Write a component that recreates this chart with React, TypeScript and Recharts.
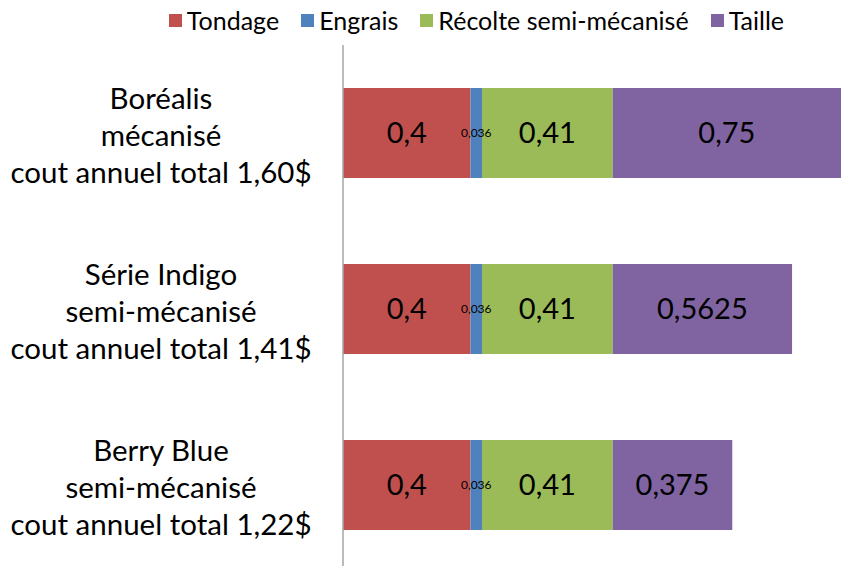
import React from "react";
import { BarChart, Bar, XAxis, YAxis, Legend, LabelList } from "recharts";

const categories = [
  ["Boréalis", "mécanisé", "cout annuel total 1,60$"],
  ["Série Indigo", "semi-mécanisé", "cout annuel total 1,41$"],
  ["Berry Blue", "semi-mécanisé", "cout annuel total 1,22$"],
];
const tondage = [0.4, 0.4, 0.4];
const engrais = [0.036, 0.036, 0.036];
const recolte = [0.41, 0.41, 0.41];
const taille = [0.75, 0.5625, 0.375];

const seriesNames = ["Tondage", "Engrais", "Récolte semi-mécanisé", "Taille"];
const seriesKeys = ["tondage", "engrais", "recolte", "taille"];
const colors = ["#C0504D", "#4F81BD", "#9BBB59", "#8064A2"];

const data = categories.map((c, i) => ({
  name: c.join("|"),
  tondage: tondage[i],
  engrais: engrais[i],
  recolte: recolte[i],
  taille: taille[i],
}));

const FONT = "Lato, 'Open Sans', sans-serif";

const fmt = (v: any) => String(v).replace(".", ",");

const CatTick = (props: any) => {
  const { x, y, payload } = props;
  const lines = String(payload.value).split("|");
  return (
    <g>
      {lines.map((l: string, i: number) => (
        <text
          key={i}
          x={x - 174}
          y={y + 1 + (i - 1) * 37}
          textAnchor="middle"
          dominantBaseline="central"
          fontSize={29.5}
          fontFamily={FONT}
          fill="#000"
        >
          {l}
        </text>
      ))}
    </g>
  );
};

const LegendContent = () => (
  <div
    style={{
      display: "flex",
      justifyContent: "flex-end",
      alignItems: "center",
      paddingRight: 57,
      fontFamily: FONT,
      fontSize: 25,
      color: "#000",
      height: 30,
    }}
  >
    {seriesNames.map((n, i) => (
      <div key={n} style={{ display: "flex", alignItems: "center", marginLeft: i === 0 ? 0 : 22 }}>
        <div style={{ width: 13, height: 13, background: colors[i], marginRight: 5 }} />
        <span>{n}</span>
      </div>
    ))}
  </div>
);

export default function App() {
  return (
    <div style={{ position: "absolute", left: 0, top: 0, width: 841, height: 566, overflow: "hidden", background: "#fff" }}>
      <BarChart
        width={841}
        height={580}
        data={data}
        layout="vertical"
        margin={{ top: 5, right: 0, bottom: 7, left: 0 }}
      >
        <Legend verticalAlign="top" align="right" height={40} content={<LegendContent />} />
        <XAxis type="number" hide domain={[0, 1.562]} allowDataOverflow />
        <YAxis
          type="category"
          dataKey="name"
          width={343}
          tickLine={false}
          axisLine={{ stroke: "#A6A6A6", strokeWidth: 1.5 }}
          tick={<CatTick />}
          interval={0}
        />
        {seriesKeys.map((k, i) => (
          <Bar key={k} dataKey={k} stackId="a" fill={colors[i]} barSize={90} isAnimationActive={false}>
            <LabelList
              dataKey={k}
              position="center"
              formatter={fmt}
              fill="#000"
              fontSize={k === "engrais" ? 12 : 29}
              fontFamily={FONT}
            />
          </Bar>
        ))}
      </BarChart>
    </div>
  );
}
